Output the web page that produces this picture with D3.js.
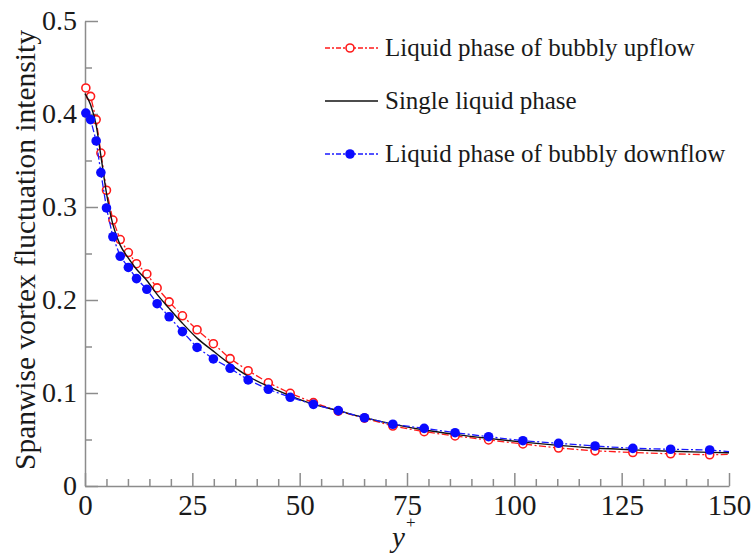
<!DOCTYPE html>
<html><head><meta charset="utf-8">
<script src="https://cdn.jsdelivr.net/npm/d3@7"></script>
</head>
<body style="margin:0;background:#fff"><svg id="c" width="755" height="556" style="display:block"></svg>
<script>
// y+ positions of the data points
const yPlus = [0.2, 1.3, 2.6, 3.7, 5.0, 6.5, 8.2, 10.1, 12.0, 14.4, 16.8, 19.6, 22.7, 26.1, 29.9, 33.8, 38.0, 42.7, 47.8, 53.2, 59.0, 65.1, 71.7, 79.0, 86.2, 94.0, 102.0, 110.3, 118.8, 127.6, 136.4, 145.5];
const upflow = [0.428, 0.419, 0.394, 0.358, 0.318, 0.286, 0.265, 0.251, 0.239, 0.228, 0.213, 0.198, 0.183, 0.168, 0.153, 0.137, 0.124, 0.111, 0.0997, 0.0896, 0.0805, 0.0730, 0.0645, 0.0584, 0.0538, 0.0495, 0.0452, 0.0408, 0.0378, 0.0360, 0.0346, 0.0336];
const downflow = [0.401, 0.394, 0.371, 0.337, 0.299, 0.268, 0.247, 0.235, 0.223, 0.2115, 0.196, 0.182, 0.166, 0.149, 0.1366, 0.1266, 0.114, 0.104, 0.0954, 0.0878, 0.0810, 0.0734, 0.0664, 0.0620, 0.0573, 0.0530, 0.0487, 0.0459, 0.0430, 0.0405, 0.0395, 0.0387];
const lineEndX = 150;
const upflowEnd = 0.034, downflowEnd = 0.037;
const singleX = [0, 1.3, 2.6, 3.7, 5.0, 6.5, 8.2, 10.1, 12.0, 14.4, 16.8, 19.6, 22.7, 26.1, 29.9, 33.8, 38.0, 42.7, 47.8, 53.2, 59.0, 65.1, 71.7, 79.0, 86.2, 94.0, 102.0, 110.3, 118.8, 127.6, 136.4, 145.5, 150];
const singleY = [0.422, 0.410, 0.388, 0.355, 0.315, 0.281, 0.259, 0.245, 0.233, 0.221, 0.206, 0.191, 0.175, 0.159, 0.145, 0.131, 0.118, 0.107, 0.097, 0.088, 0.081, 0.0735, 0.0665, 0.0602, 0.0555, 0.0512, 0.0472, 0.0437, 0.0408, 0.0388, 0.0373, 0.0362, 0.0357];
const xMajor = [0, 25, 50, 75, 100, 125, 150];
const yMajor = [0, 0.1, 0.2, 0.3, 0.4, 0.5];
const yMajorLabels = ["0", "0.1", "0.2", "0.3", "0.4", "0.5"];
const legendLabels = ["Liquid phase of bubbly upflow", "Single liquid phase", "Liquid phase of bubbly downflow"];

const FONT = "Liberation Serif";
const svg = d3.select("#c");
const x = d3.scaleLinear().domain([0, 150]).range([85, 729]);
const y = d3.scaleLinear().domain([0, 0.5]).range([486, 21]);
const axisColor = "#8c8c8c";
const textColor = "#1a1a1a";

// minor ticks
const xMinor = d3.range(0, 151, 5).filter(v => v % 25 !== 0);
const yMinor = d3.range(0.05, 0.5, 0.1);

const gx = svg.append("g").attr("transform", "translate(0,486)");
gx.call(d3.axisBottom(x).tickValues(xMinor).tickSize(-7).tickFormat(""));
gx.call(g => g.select(".domain").remove());
const gx2 = svg.append("g").attr("transform", "translate(0,486)");
gx2.call(d3.axisBottom(x).tickValues(xMajor).tickSizeInner(-13).tickSizeOuter(0).tickPadding(22).tickFormat(d3.format("d")));
[gx, gx2].forEach(g => {
  g.attr("font-family", FONT);
  g.selectAll("line").attr("stroke", axisColor).attr("stroke-width", 1.5);
  g.selectAll(".domain").attr("stroke", axisColor).attr("stroke-width", 1.5);
  g.selectAll("text").attr("fill", textColor).attr("font-family", FONT).attr("font-size", 29);
});
gx2.selectAll("text").attr("dy", "0.71em").attr("y", 8);

const gy = svg.append("g").attr("transform", "translate(85,0)");
gy.call(d3.axisLeft(y).tickValues(yMinor).tickSize(-7).tickFormat(""));
gy.call(g => g.select(".domain").remove());
const gy2 = svg.append("g").attr("transform", "translate(85,0)");
gy2.call(d3.axisLeft(y).tickValues(yMajor).tickSizeInner(-13).tickSizeOuter(0).tickPadding(21).tickFormat((d, i) => yMajorLabels[i]));
[gy, gy2].forEach(g => {
  g.attr("font-family", FONT);
  g.selectAll("line").attr("stroke", axisColor).attr("stroke-width", 1.5);
  g.selectAll(".domain").attr("stroke", axisColor).attr("stroke-width", 1.5);
  g.selectAll("text").attr("fill", textColor).attr("font-family", FONT).attr("font-size", 28);
});
gy2.selectAll("text").attr("x", -8);

// axis titles
svg.append("text").attr("transform", "translate(35,250) rotate(-90)")
  .attr("text-anchor", "middle").attr("font-family", FONT).attr("font-size", 29.5).attr("fill", textColor)
  .text("Spanwise vortex fluctuation intensity");
const xt = svg.append("text").attr("x", 392).attr("y", 547).attr("text-anchor", "start")
  .attr("font-family", FONT).attr("font-size", 29).attr("fill", textColor);
xt.append("tspan").attr("font-style", "italic").text("y");
xt.append("tspan").attr("dy", -19).attr("dx", 1).attr("font-size", 17).text("+");

const line = d3.line().x(d => x(d[0])).y(d => y(d[1]));
const dashDot = "7,2.5,2,2.5";

// red upflow
const upPts = yPlus.map((v, i) => [v, upflow[i]]);
svg.append("path").datum(upPts.concat([[lineEndX, upflowEnd]])).attr("d", line)
  .attr("fill", "none").attr("stroke", "#ff1a1a").attr("stroke-width", 1.3).attr("stroke-dasharray", dashDot);
svg.append("g").selectAll("circle").data(upPts).join("circle")
  .attr("cx", d => x(d[0])).attr("cy", d => y(d[1])).attr("r", 4)
  .attr("fill", "#fff").attr("stroke", "#ff1a1a").attr("stroke-width", 1.6);

// black single phase
svg.append("path").datum(singleX.map((v, i) => [v, singleY[i]])).attr("d", line.curve(d3.curveMonotoneX))
  .attr("fill", "none").attr("stroke", "#111").attr("stroke-width", 1.4);
line.curve(d3.curveLinear);

// blue downflow
const dnPts = yPlus.map((v, i) => [v, downflow[i]]);
svg.append("path").datum(dnPts.concat([[lineEndX, downflowEnd]])).attr("d", line)
  .attr("fill", "none").attr("stroke", "#1a1aff").attr("stroke-width", 1.3).attr("stroke-dasharray", dashDot);
svg.append("g").selectAll("circle").data(dnPts).join("circle")
  .attr("cx", d => x(d[0])).attr("cy", d => y(d[1])).attr("r", 4.8)
  .attr("fill", "#0a0aff").attr("stroke", "none");

// legend
const lg = svg.append("g");
const rowsY = [48, 101, 154];
const lcol = ["#ff1a1a", "#111", "#1a1aff"];
legendLabels.forEach((t, i) => {
  const yy = rowsY[i];
  lg.append("line").attr("x1", 325).attr("x2", 378).attr("y1", yy).attr("y2", yy)
    .attr("stroke", lcol[i]).attr("stroke-width", i === 1 ? 1.4 : 1.3)
    .attr("stroke-dasharray", i === 1 ? null : "5,2,2,2");
  if (i === 0) lg.append("circle").attr("cx", 350).attr("cy", yy).attr("r", 4).attr("fill", "#fff").attr("stroke", "#ff1a1a").attr("stroke-width", 1.6);
  if (i === 2) lg.append("circle").attr("cx", 350).attr("cy", yy).attr("r", 4.8).attr("fill", "#0a0aff");
  lg.append("text").attr("x", 385).attr("y", yy + 8).attr("font-family", FONT).attr("font-size", 25).attr("fill", textColor).text(t);
});
</script></body></html>
